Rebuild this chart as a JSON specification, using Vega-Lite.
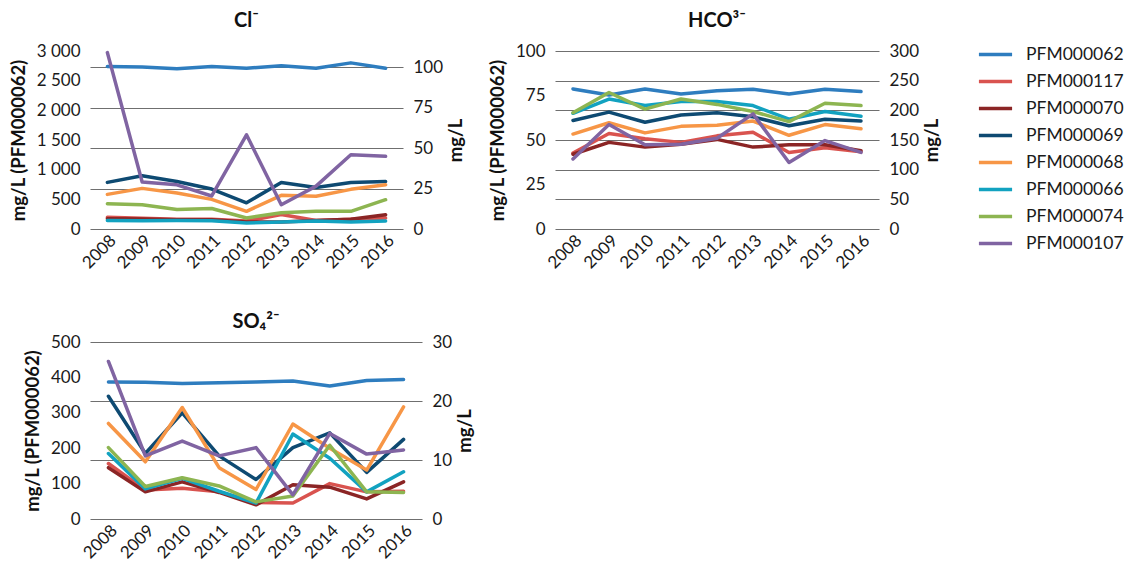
{
  "$schema": "https://vega.github.io/schema/vega-lite/v6.json",
  "padding": {"left": 9, "top": 11, "right": 0, "bottom": 0},
  "background": "white",
  "config": {
    "font": "Lato",
    "view": {"stroke": null},
    "title": {"fontSize": 20, "fontWeight": "bold", "color": "#111", "offset": 11},
    "axis": {"labelFontSize": 17, "labelColor": "#1a1a1a", "titleFontSize": 18.5, "titleFontWeight": "bold", "titleColor": "#111", "titlePadding": 8, "ticks": false, "domain": false, "labelPadding": 10, "gridColor": "#6f6f6f", "gridWidth": 1.2, "gridOpacity": 1},
    "legend": {"labelFontSize": 17.5, "labelColor": "#1a1a1a", "labelLimit": 200, "symbolType": "stroke", "symbolStrokeWidth": 4.5, "symbolSize": 1100, "rowPadding": -6.5, "labelOffset": 12, "orient": "none", "legendX": 887, "legendY": -15, "title": null},
    "line": {"strokeWidth": 3.5, "strokeCap": "round", "strokeJoin": "round"}
  },
  "data": {"values": [
    {"ion":"Cl","station":"PFM000062","year":2008,"value":2740},{"ion":"Cl","station":"PFM000062","year":2009,"value":2730},{"ion":"Cl","station":"PFM000062","year":2010,"value":2700},{"ion":"Cl","station":"PFM000062","year":2011,"value":2740},{"ion":"Cl","station":"PFM000062","year":2012,"value":2710},{"ion":"Cl","station":"PFM000062","year":2013,"value":2750},{"ion":"Cl","station":"PFM000062","year":2014,"value":2710},{"ion":"Cl","station":"PFM000062","year":2015,"value":2800},{"ion":"Cl","station":"PFM000062","year":2016,"value":2710},
    {"ion":"Cl","station":"PFM000117","year":2008,"value":7.2},{"ion":"Cl","station":"PFM000117","year":2009,"value":6.6},{"ion":"Cl","station":"PFM000117","year":2010,"value":6.0},{"ion":"Cl","station":"PFM000117","year":2011,"value":6.0},{"ion":"Cl","station":"PFM000117","year":2012,"value":4.9},{"ion":"Cl","station":"PFM000117","year":2013,"value":9.0},{"ion":"Cl","station":"PFM000117","year":2014,"value":5.3},{"ion":"Cl","station":"PFM000117","year":2015,"value":6.0},{"ion":"Cl","station":"PFM000117","year":2016,"value":6.8},
    {"ion":"Cl","station":"PFM000070","year":2008,"value":6.4},{"ion":"Cl","station":"PFM000070","year":2009,"value":6.2},{"ion":"Cl","station":"PFM000070","year":2010,"value":5.7},{"ion":"Cl","station":"PFM000070","year":2011,"value":5.7},{"ion":"Cl","station":"PFM000070","year":2012,"value":4.3},{"ion":"Cl","station":"PFM000070","year":2013,"value":4.3},{"ion":"Cl","station":"PFM000070","year":2014,"value":5.3},{"ion":"Cl","station":"PFM000070","year":2015,"value":6.0},{"ion":"Cl","station":"PFM000070","year":2016,"value":8.8},
    {"ion":"Cl","station":"PFM000069","year":2008,"value":28.8},{"ion":"Cl","station":"PFM000069","year":2009,"value":32.9},{"ion":"Cl","station":"PFM000069","year":2010,"value":29.4},{"ion":"Cl","station":"PFM000069","year":2011,"value":24.7},{"ion":"Cl","station":"PFM000069","year":2012,"value":16.2},{"ion":"Cl","station":"PFM000069","year":2013,"value":28.8},{"ion":"Cl","station":"PFM000069","year":2014,"value":25.7},{"ion":"Cl","station":"PFM000069","year":2015,"value":28.8},{"ion":"Cl","station":"PFM000069","year":2016,"value":29.4},
    {"ion":"Cl","station":"PFM000068","year":2008,"value":21.4},{"ion":"Cl","station":"PFM000068","year":2009,"value":25.1},{"ion":"Cl","station":"PFM000068","year":2010,"value":22.2},{"ion":"Cl","station":"PFM000068","year":2011,"value":18.3},{"ion":"Cl","station":"PFM000068","year":2012,"value":10.9},{"ion":"Cl","station":"PFM000068","year":2013,"value":20.8},{"ion":"Cl","station":"PFM000068","year":2014,"value":20.2},{"ion":"Cl","station":"PFM000068","year":2015,"value":24.5},{"ion":"Cl","station":"PFM000068","year":2016,"value":27.3},
    {"ion":"Cl","station":"PFM000066","year":2008,"value":5.3},{"ion":"Cl","station":"PFM000066","year":2009,"value":5.1},{"ion":"Cl","station":"PFM000066","year":2010,"value":5.3},{"ion":"Cl","station":"PFM000066","year":2011,"value":5.1},{"ion":"Cl","station":"PFM000066","year":2012,"value":3.7},{"ion":"Cl","station":"PFM000066","year":2013,"value":4.3},{"ion":"Cl","station":"PFM000066","year":2014,"value":4.9},{"ion":"Cl","station":"PFM000066","year":2015,"value":4.3},{"ion":"Cl","station":"PFM000066","year":2016,"value":4.9},
    {"ion":"Cl","station":"PFM000074","year":2008,"value":15.6},{"ion":"Cl","station":"PFM000074","year":2009,"value":15.0},{"ion":"Cl","station":"PFM000074","year":2010,"value":12.1},{"ion":"Cl","station":"PFM000074","year":2011,"value":12.7},{"ion":"Cl","station":"PFM000074","year":2012,"value":6.8},{"ion":"Cl","station":"PFM000074","year":2013,"value":10.1},{"ion":"Cl","station":"PFM000074","year":2014,"value":10.9},{"ion":"Cl","station":"PFM000074","year":2015,"value":10.9},{"ion":"Cl","station":"PFM000074","year":2016,"value":18.1},
    {"ion":"Cl","station":"PFM000107","year":2008,"value":109},{"ion":"Cl","station":"PFM000107","year":2009,"value":29},{"ion":"Cl","station":"PFM000107","year":2010,"value":27.3},{"ion":"Cl","station":"PFM000107","year":2011,"value":20.4},{"ion":"Cl","station":"PFM000107","year":2012,"value":58.2},{"ion":"Cl","station":"PFM000107","year":2013,"value":15},{"ion":"Cl","station":"PFM000107","year":2014,"value":26.5},{"ion":"Cl","station":"PFM000107","year":2015,"value":45.9},{"ion":"Cl","station":"PFM000107","year":2016,"value":44.9},
    {"ion":"HCO3","station":"PFM000062","year":2008,"value":78.7},{"ion":"HCO3","station":"PFM000062","year":2009,"value":75.3},{"ion":"HCO3","station":"PFM000062","year":2010,"value":78.7},{"ion":"HCO3","station":"PFM000062","year":2011,"value":75.8},{"ion":"HCO3","station":"PFM000062","year":2012,"value":77.7},{"ion":"HCO3","station":"PFM000062","year":2013,"value":78.5},{"ion":"HCO3","station":"PFM000062","year":2014,"value":75.8},{"ion":"HCO3","station":"PFM000062","year":2015,"value":78.5},{"ion":"HCO3","station":"PFM000062","year":2016,"value":77.2},
    {"ion":"HCO3","station":"PFM000117","year":2008,"value":128},{"ion":"HCO3","station":"PFM000117","year":2009,"value":161},{"ion":"HCO3","station":"PFM000117","year":2010,"value":152},{"ion":"HCO3","station":"PFM000117","year":2011,"value":146},{"ion":"HCO3","station":"PFM000117","year":2012,"value":157},{"ion":"HCO3","station":"PFM000117","year":2013,"value":163},{"ion":"HCO3","station":"PFM000117","year":2014,"value":129},{"ion":"HCO3","station":"PFM000117","year":2015,"value":137},{"ion":"HCO3","station":"PFM000117","year":2016,"value":130},
    {"ion":"HCO3","station":"PFM000070","year":2008,"value":126},{"ion":"HCO3","station":"PFM000070","year":2009,"value":146},{"ion":"HCO3","station":"PFM000070","year":2010,"value":138},{"ion":"HCO3","station":"PFM000070","year":2011,"value":143},{"ion":"HCO3","station":"PFM000070","year":2012,"value":151},{"ion":"HCO3","station":"PFM000070","year":2013,"value":138},{"ion":"HCO3","station":"PFM000070","year":2014,"value":142},{"ion":"HCO3","station":"PFM000070","year":2015,"value":142},{"ion":"HCO3","station":"PFM000070","year":2016,"value":132},
    {"ion":"HCO3","station":"PFM000069","year":2008,"value":183},{"ion":"HCO3","station":"PFM000069","year":2009,"value":197},{"ion":"HCO3","station":"PFM000069","year":2010,"value":180},{"ion":"HCO3","station":"PFM000069","year":2011,"value":192},{"ion":"HCO3","station":"PFM000069","year":2012,"value":196},{"ion":"HCO3","station":"PFM000069","year":2013,"value":189},{"ion":"HCO3","station":"PFM000069","year":2014,"value":174},{"ion":"HCO3","station":"PFM000069","year":2015,"value":185},{"ion":"HCO3","station":"PFM000069","year":2016,"value":182},
    {"ion":"HCO3","station":"PFM000068","year":2008,"value":160},{"ion":"HCO3","station":"PFM000068","year":2009,"value":179},{"ion":"HCO3","station":"PFM000068","year":2010,"value":162},{"ion":"HCO3","station":"PFM000068","year":2011,"value":173},{"ion":"HCO3","station":"PFM000068","year":2012,"value":175},{"ion":"HCO3","station":"PFM000068","year":2013,"value":182},{"ion":"HCO3","station":"PFM000068","year":2014,"value":158},{"ion":"HCO3","station":"PFM000068","year":2015,"value":176},{"ion":"HCO3","station":"PFM000068","year":2016,"value":169},
    {"ion":"HCO3","station":"PFM000066","year":2008,"value":195},{"ion":"HCO3","station":"PFM000066","year":2009,"value":219},{"ion":"HCO3","station":"PFM000066","year":2010,"value":208},{"ion":"HCO3","station":"PFM000066","year":2011,"value":215},{"ion":"HCO3","station":"PFM000066","year":2012,"value":215},{"ion":"HCO3","station":"PFM000066","year":2013,"value":208},{"ion":"HCO3","station":"PFM000066","year":2014,"value":185},{"ion":"HCO3","station":"PFM000066","year":2015,"value":198},{"ion":"HCO3","station":"PFM000066","year":2016,"value":190},
    {"ion":"HCO3","station":"PFM000074","year":2008,"value":196},{"ion":"HCO3","station":"PFM000074","year":2009,"value":230},{"ion":"HCO3","station":"PFM000074","year":2010,"value":202},{"ion":"HCO3","station":"PFM000074","year":2011,"value":219},{"ion":"HCO3","station":"PFM000074","year":2012,"value":210},{"ion":"HCO3","station":"PFM000074","year":2013,"value":198},{"ion":"HCO3","station":"PFM000074","year":2014,"value":181},{"ion":"HCO3","station":"PFM000074","year":2015,"value":212},{"ion":"HCO3","station":"PFM000074","year":2016,"value":208},
    {"ion":"HCO3","station":"PFM000107","year":2008,"value":118},{"ion":"HCO3","station":"PFM000107","year":2009,"value":176},{"ion":"HCO3","station":"PFM000107","year":2010,"value":142},{"ion":"HCO3","station":"PFM000107","year":2011,"value":143},{"ion":"HCO3","station":"PFM000107","year":2012,"value":153},{"ion":"HCO3","station":"PFM000107","year":2013,"value":194},{"ion":"HCO3","station":"PFM000107","year":2014,"value":112},{"ion":"HCO3","station":"PFM000107","year":2015,"value":149},{"ion":"HCO3","station":"PFM000107","year":2016,"value":129},
    {"ion":"SO4","station":"PFM000062","year":2008,"value":387},{"ion":"SO4","station":"PFM000062","year":2009,"value":386},{"ion":"SO4","station":"PFM000062","year":2010,"value":383},{"ion":"SO4","station":"PFM000062","year":2011,"value":385},{"ion":"SO4","station":"PFM000062","year":2012,"value":387},{"ion":"SO4","station":"PFM000062","year":2013,"value":390},{"ion":"SO4","station":"PFM000062","year":2014,"value":376},{"ion":"SO4","station":"PFM000062","year":2015,"value":391},{"ion":"SO4","station":"PFM000062","year":2016,"value":394},
    {"ion":"SO4","station":"PFM000117","year":2008,"value":9.4},{"ion":"SO4","station":"PFM000117","year":2009,"value":4.9},{"ion":"SO4","station":"PFM000117","year":2010,"value":5.2},{"ion":"SO4","station":"PFM000117","year":2011,"value":4.6},{"ion":"SO4","station":"PFM000117","year":2012,"value":2.8},{"ion":"SO4","station":"PFM000117","year":2013,"value":2.7},{"ion":"SO4","station":"PFM000117","year":2014,"value":6.0},{"ion":"SO4","station":"PFM000117","year":2015,"value":4.6},{"ion":"SO4","station":"PFM000117","year":2016,"value":4.7},
    {"ion":"SO4","station":"PFM000070","year":2008,"value":8.7},{"ion":"SO4","station":"PFM000070","year":2009,"value":4.6},{"ion":"SO4","station":"PFM000070","year":2010,"value":6.3},{"ion":"SO4","station":"PFM000070","year":2011,"value":4.5},{"ion":"SO4","station":"PFM000070","year":2012,"value":2.4},{"ion":"SO4","station":"PFM000070","year":2013,"value":5.8},{"ion":"SO4","station":"PFM000070","year":2014,"value":5.4},{"ion":"SO4","station":"PFM000070","year":2015,"value":3.4},{"ion":"SO4","station":"PFM000070","year":2016,"value":6.3},
    {"ion":"SO4","station":"PFM000069","year":2008,"value":20.8},{"ion":"SO4","station":"PFM000069","year":2009,"value":11.1},{"ion":"SO4","station":"PFM000069","year":2010,"value":18.0},{"ion":"SO4","station":"PFM000069","year":2011,"value":10.7},{"ion":"SO4","station":"PFM000069","year":2012,"value":6.7},{"ion":"SO4","station":"PFM000069","year":2013,"value":12.1},{"ion":"SO4","station":"PFM000069","year":2014,"value":14.6},{"ion":"SO4","station":"PFM000069","year":2015,"value":7.9},{"ion":"SO4","station":"PFM000069","year":2016,"value":13.5},
    {"ion":"SO4","station":"PFM000068","year":2008,"value":16.2},{"ion":"SO4","station":"PFM000068","year":2009,"value":9.7},{"ion":"SO4","station":"PFM000068","year":2010,"value":18.9},{"ion":"SO4","station":"PFM000068","year":2011,"value":8.7},{"ion":"SO4","station":"PFM000068","year":2012,"value":5.0},{"ion":"SO4","station":"PFM000068","year":2013,"value":16.1},{"ion":"SO4","station":"PFM000068","year":2014,"value":12.0},{"ion":"SO4","station":"PFM000068","year":2015,"value":8.3},{"ion":"SO4","station":"PFM000068","year":2016,"value":19.0},
    {"ion":"SO4","station":"PFM000066","year":2008,"value":11.1},{"ion":"SO4","station":"PFM000066","year":2009,"value":5.1},{"ion":"SO4","station":"PFM000066","year":2010,"value":6.9},{"ion":"SO4","station":"PFM000066","year":2011,"value":4.7},{"ion":"SO4","station":"PFM000066","year":2012,"value":2.7},{"ion":"SO4","station":"PFM000066","year":2013,"value":14.4},{"ion":"SO4","station":"PFM000066","year":2014,"value":10.3},{"ion":"SO4","station":"PFM000066","year":2015,"value":4.6},{"ion":"SO4","station":"PFM000066","year":2016,"value":8.0},
    {"ion":"SO4","station":"PFM000074","year":2008,"value":12.1},{"ion":"SO4","station":"PFM000074","year":2009,"value":5.5},{"ion":"SO4","station":"PFM000074","year":2010,"value":7.0},{"ion":"SO4","station":"PFM000074","year":2011,"value":5.6},{"ion":"SO4","station":"PFM000074","year":2012,"value":2.9},{"ion":"SO4","station":"PFM000074","year":2013,"value":3.9},{"ion":"SO4","station":"PFM000074","year":2014,"value":12.5},{"ion":"SO4","station":"PFM000074","year":2015,"value":4.6},{"ion":"SO4","station":"PFM000074","year":2016,"value":4.5},
    {"ion":"SO4","station":"PFM000107","year":2008,"value":26.7},{"ion":"SO4","station":"PFM000107","year":2009,"value":10.7},{"ion":"SO4","station":"PFM000107","year":2010,"value":13.2},{"ion":"SO4","station":"PFM000107","year":2011,"value":10.7},{"ion":"SO4","station":"PFM000107","year":2012,"value":12.1},{"ion":"SO4","station":"PFM000107","year":2013,"value":4.1},{"ion":"SO4","station":"PFM000107","year":2014,"value":14.5},{"ion":"SO4","station":"PFM000107","year":2015,"value":11.0},{"ion":"SO4","station":"PFM000107","year":2016,"value":11.7}
  ]},
  "vconcat": [
    {
      "hconcat": [
        {
          "title": "Cl⁻",
          "width": 313, "height": 178,
          "transform": [{"filter": "datum.ion === 'Cl'"}],
          "layer": [
            {
              "transform": [{"filter": "datum.station === 'PFM000062'"}],
              "mark": "line",
              "encoding": {
                "x": {"field": "year", "type": "ordinal", "scale": {"type": "point", "padding": 0.5}, "axis": {"title": null, "labelAngle": -45, "labelFontSize": 17, "labelPadding": 3}},
                "y": {"field": "value", "type": "quantitative", "scale": {"domain": [0, 3000], "nice": false}, "axis": {"orient": "left", "values": [0, 500, 1000, 1500, 2000, 2500, 3000], "grid": false, "title": "mg/L (PFM000062)", "labelExpr": "replace(format(datum.value, ','), ',', ' ')"}},
                "color": {"field": "station", "type": "nominal", "scale": {"domain": ["PFM000062", "PFM000117", "PFM000070", "PFM000069", "PFM000068", "PFM000066", "PFM000074", "PFM000107"], "range": ["#2e7dbf", "#d9534f", "#8b2525", "#0e4a72", "#f79646", "#12a2c0", "#8db551", "#8064a2"]}}
              }
            },
            {
              "transform": [{"filter": "datum.station !== 'PFM000062'"}],
              "mark": "line",
              "encoding": {
                "x": {"field": "year", "type": "ordinal", "scale": {"type": "point", "padding": 0.5}},
                "y": {"field": "value", "type": "quantitative", "scale": {"domain": [0, 110], "nice": false}, "axis": {"orient": "right", "values": [0, 25, 50, 75, 100], "grid": true, "title": "mg/L", "titleAngle": 270, "titleBaseline": "top", "titlePadding": 4}},
                "color": {"field": "station", "type": "nominal"}
              }
            }
          ],
          "resolve": {"scale": {"y": "independent"}}
        },
        {
          "title": "HCO³⁻",
          "width": 324, "height": 178,
          "transform": [{"filter": "datum.ion === 'HCO3'"}],
          "layer": [
            {
              "transform": [{"filter": "datum.station === 'PFM000062'"}],
              "mark": "line",
              "encoding": {
                "x": {"field": "year", "type": "ordinal", "scale": {"type": "point", "padding": 0.5}, "axis": {"title": null, "labelAngle": -45, "labelFontSize": 17, "labelPadding": 3}},
                "y": {"field": "value", "type": "quantitative", "scale": {"domain": [0, 100], "nice": false}, "axis": {"orient": "left", "values": [0, 25, 50, 75, 100], "grid": false, "title": "mg/L (PFM000062)"}},
                "color": {"field": "station", "type": "nominal"}
              }
            },
            {
              "transform": [{"filter": "datum.station !== 'PFM000062'"}],
              "mark": "line",
              "encoding": {
                "x": {"field": "year", "type": "ordinal", "scale": {"type": "point", "padding": 0.5}},
                "y": {"field": "value", "type": "quantitative", "scale": {"domain": [0, 300], "nice": false}, "axis": {"orient": "right", "values": [0, 50, 100, 150, 200, 250, 300], "grid": true, "title": "mg/L", "titleAngle": 270, "titleBaseline": "top", "titlePadding": 4}},
                "color": {"field": "station", "type": "nominal"}
              }
            }
          ],
          "resolve": {"scale": {"y": "independent"}}
        }
      ],
      "spacing": 22
    },
    {
      "title": {"text": "SO₄²⁻", "offset": 1},
      "width": 332, "height": 177,
      "transform": [{"filter": "datum.ion === 'SO4'"}],
      "layer": [
        {
          "transform": [{"filter": "datum.station === 'PFM000062'"}],
          "mark": "line",
          "encoding": {
            "x": {"field": "year", "type": "ordinal", "scale": {"type": "point", "padding": 0.5}, "axis": {"title": null, "labelAngle": -45, "labelFontSize": 17, "labelPadding": 3}},
            "y": {"field": "value", "type": "quantitative", "scale": {"domain": [0, 500], "nice": false}, "axis": {"orient": "left", "values": [0, 100, 200, 300, 400, 500], "grid": false, "title": "mg/L (PFM000062)"}},
            "color": {"field": "station", "type": "nominal"}
          }
        },
        {
          "transform": [{"filter": "datum.station !== 'PFM000062'"}],
          "mark": "line",
          "encoding": {
            "x": {"field": "year", "type": "ordinal", "scale": {"type": "point", "padding": 0.5}},
            "y": {"field": "value", "type": "quantitative", "scale": {"domain": [0, 30], "nice": false}, "axis": {"orient": "right", "values": [0, 10, 20, 30], "grid": true, "title": "mg/L", "titleAngle": 270, "titleBaseline": "top", "titlePadding": 4}},
            "color": {"field": "station", "type": "nominal"}
          }
        }
      ],
      "resolve": {"scale": {"y": "independent"}}
    }
  ],
  "spacing": 40
}
